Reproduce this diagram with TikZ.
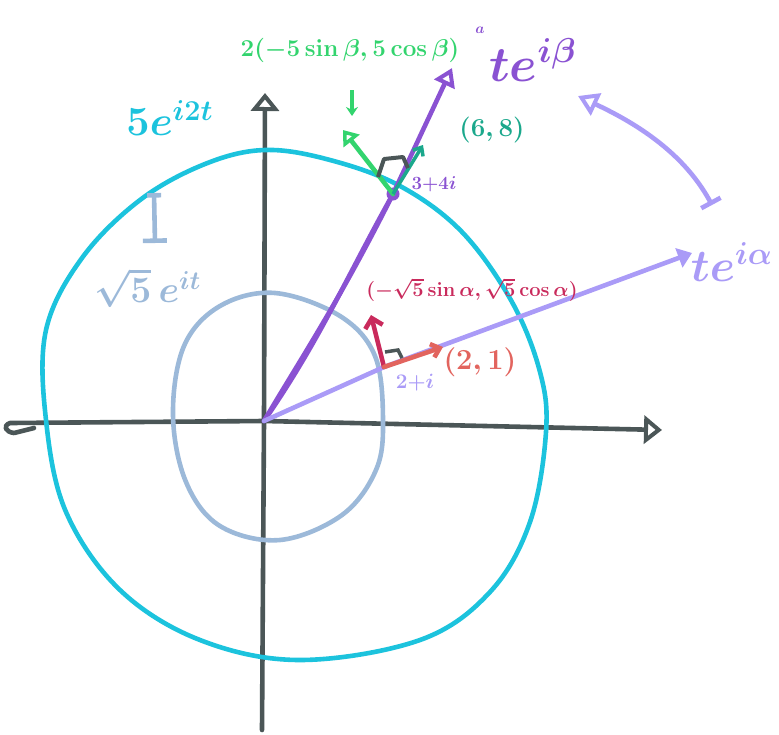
\documentclass[tikz,border=0pt]{standalone}
\usepackage{graphicx}
\usetikzlibrary{arrows.meta}
\definecolor{axisc}{HTML}{4B5657}
\definecolor{cyanc}{HTML}{1CC3DD}
\definecolor{lblue}{HTML}{9CB9D9}
\definecolor{purp}{HTML}{8A52D2}
\definecolor{lav}{HTML}{AA9BF7}
\definecolor{grn}{HTML}{33D46E}
\definecolor{tealc}{HTML}{1BA88C}
\definecolor{crim}{HTML}{C92A5C}
\definecolor{salm}{HTML}{E2645E}
\tikzset{
  stroke/.style={line width=4.6pt, line cap=round, line join=round},
  opentip/.style={-{Triangle[open,length=18pt,width=28pt,line width=4pt]}},
  lbl/.style={inner sep=0pt, anchor=center},
}
\newcommand{\hw}[2]{\scalebox{#1}{\huge\boldmath$#2$}}
\begin{document}
\begin{tikzpicture}[x=1pt,y=-1pt]
\useasboundingbox (0,0) rectangle (779,734);
% coordinates
\coordinate (O) at (264,421);
\coordinate (xl) at (10,423);
\coordinate (xr) at (662,430);
\coordinate (yb) at (262,730);
\coordinate (yt) at (265,93);
\coordinate (P) at (393,194);
\coordinate (Q) at (384,367);
\coordinate (Ptip) at (452,68);
\coordinate (Qtip) at (692,253);
% axes
\draw[stroke, axisc, opentip] (O) -- (xr);
\draw[stroke, axisc] (O) -- (xl) .. controls (2,426) and (6,432) .. (14,433) -- (34,428);
\draw[stroke, axisc, opentip] (yb) -- (O) -- (yt);
% big cyan curve
\draw[stroke, cyanc] plot[smooth cycle, tension=0.6] coordinates {
 (265,150) (330,160) (400,186) (462,232) (512,302) (540,372) (546,432)
 (530,522) (490,592) (420,640) (300,660) (200,640) (120,590) (66,512)
 (46,420) (46,330) (82,258) (140,200) (205,164)};
% small light-blue curve
\draw[stroke, lblue] plot[smooth cycle, tension=0.6] coordinates {
 (275,293) (340,316) (375,356) (383,420) (376,470) (342,515) (280,540)
 (220,526) (186,482) (173,415) (184,346) (220,306)};
% distance marker
\draw[stroke, lblue, {Bar[width=14pt]}-{Bar[width=24pt]}] (154,193) -- (155,243);
% purple line (double stroke near origin)
\draw[stroke, purp, -{Triangle[open,length=18pt,width=22pt,line width=4pt]}] (O) .. controls (300,360) and (340,300) .. (P) -- (Ptip);
\draw[stroke, purp] (O) .. controls (320,340) and (345,280) .. (P);
\fill[purp] (P) circle (6.5pt);
% lavender line
\draw[stroke, lav, -{Triangle[length=14pt,width=20pt]}] (O) -- (Q) -- (Qtip);
% curved double arrow
\coordinate (cA) at (712,205);
\coordinate (cB) at (578,96);
\draw[stroke, lav, {Bar[width=22pt]}-{Triangle[open,length=20pt,width=24pt,line width=4pt]}] (cA) .. controls (685,155) and (640,125) .. (cB);
% green arrow
\coordinate (G) at (343,130);
\draw[stroke, grn, -{Triangle[open,length=14pt,width=20pt,line width=4pt]}] (P) -- (G);
\coordinate (g1) at (352,90);
\coordinate (g2) at (352,116);
\draw[line width=3.5pt, grn, -{Stealth[length=9pt,width=12pt]}] (g1) -- (g2);
% teal arrow
\coordinate (T) at (423,145);
\draw[line width=3.5pt, tealc, -{Straight Barb[length=7pt,width=12pt]}] (P) -- (T);
% right angle mark
\draw[line width=4pt, axisc, line join=round] (378,177) -- (384,159) -- (403,157) -- (408,168);
% red arrow
\coordinate (R) at (371,315);
\draw[stroke, crim, -{Straight Barb[length=9pt,width=18pt]}] (Q) -- (R);
% salmon arrow
\coordinate (S) at (443,347);
\draw[stroke, salm, -{Straight Barb[length=8pt,width=14pt]}] (Q) -- (S);
\draw[line width=3.5pt, axisc] (385,352) -- (398,350) -- (402,358);
% labels
\node[lbl, grn] (lg) at (350,50) {\hw{1.17}{2(-5\sin\beta, 5\cos\beta)}};
\node[lbl, purp] (lb) at (533,60) {\hw{2.4}{te^{i\beta}}};
\node[lbl, purp] (la) at (480,30) {\hw{0.7}{a}};
\node[lbl, tealc] (l68) at (492,130) {\hw{1.25}{(6,8)}};
\node[lbl, purp] (l34) at (434,184) {\hw{0.9}{3{+}4i}};
\node[lbl, cyanc] (lc) at (170,118) {\hw{2.0}{5e^{i2t}}};
\node[lbl, lblue] (ls) at (148,288) {\hw{1.8}{\sqrt5\,e^{it}}};
\node[lbl, crim] (lr) at (472,290) {\hw{0.97}{(-\sqrt5\sin\alpha, \sqrt5\cos\alpha)}};
\node[lbl, salm] (l21) at (480,362) {\hw{1.4}{(2,1)}};
\node[lbl, lav] (l2i) at (415,383) {\hw{1.0}{2{+}i}};
\node[lbl, lav] (lal) at (732,262) {\hw{2.2}{te^{i\alpha}}};
\end{tikzpicture}
\end{document}
